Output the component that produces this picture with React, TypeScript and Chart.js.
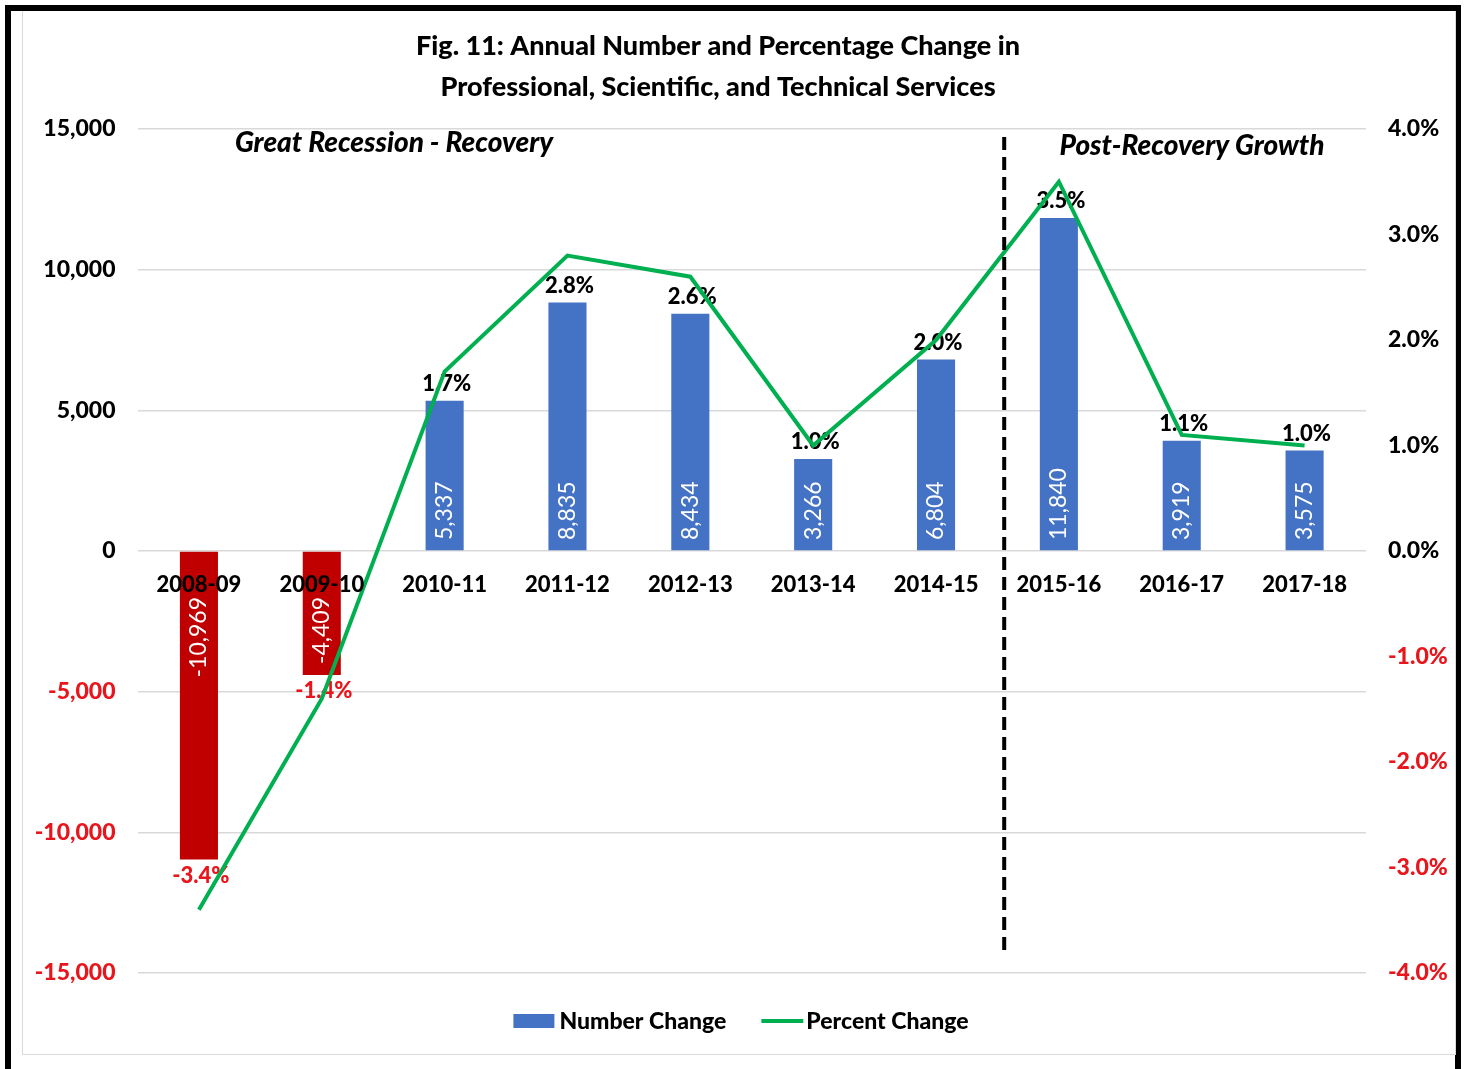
import React, { useEffect, useRef } from "react";
import { Chart, registerables } from "chart.js";

Chart.register(...registerables);

// ---------- data ----------
const categories = ["2008-09", "2009-10", "2010-11", "2011-12", "2012-13", "2013-14", "2014-15", "2015-16", "2016-17", "2017-18"];
const numberChange = [-10969, -4409, 5337, 8835, 8434, 3266, 6804, 11840, 3919, 3575];
const percentChange = [-3.4, -1.4, 1.7, 2.8, 2.6, 1.0, 2.0, 3.5, 1.1, 1.0];
const leftAxisRange = [-15000, 15000, 5000];
const rightAxisRange = [-4, 4, 1];
const titleLines = ["Fig. 11: Annual Number and Percentage Change in", "Professional, Scientific, and Technical Services"];
const periodLabels = ["Great Recession - Recovery", "Post-Recovery Growth"];
const seriesNames = ["Number Change", "Percent Change"];
const dividerAfterIndex = 6; // boundary between 2014-15 and 2015-16

// ---------- style ----------
const FONT = "Lato, 'Open Sans', 'DejaVu Sans', sans-serif";
const BOLD = 900;
const BLUE = "#4472C4";
const DARK_RED = "#C00000";
const NEG_TEXT = "#E8161C";
const GREEN = "#00B050";
const GRID = "#D9D9D9";
const W = 1465;
const H = 1069;

const fmtNum = (v: number) => v.toLocaleString("en-US");
const fmtPct = (v: number) => v.toFixed(1) + "%";

const overlayPlugin = {
  id: "overlay",
  afterDatasetDraw(chart: any, args: any) {
    if (args.index !== 0) return;
    const ctx = chart.ctx;
    const y = chart.scales.y;
    const zero = y.getPixelForValue(0);
    const bars = chart.getDatasetMeta(0).data;
    ctx.save();
    bars.forEach((bar: any, i: number) => {
      const v = numberChange[i];
      // value label inside bar, rotated
      ctx.save();
      ctx.font = `400 23px ${FONT}`;
      ctx.fillStyle = "#FFFFFF";
      ctx.textBaseline = "middle";
      if (v >= 0) {
        ctx.translate(bar.x, zero - 11);
        ctx.rotate(-Math.PI / 2);
        ctx.textAlign = "left";
      } else {
        ctx.translate(bar.x, zero + 46);
        ctx.rotate(-Math.PI / 2);
        ctx.textAlign = "right";
      }
      ctx.fillText(fmtNum(v), 0, 0);
      ctx.restore();

      // percent label at bar end
      const p = percentChange[i];
      ctx.font = `${BOLD} 22px ${FONT}`;
      ctx.textAlign = "center";
      ctx.textBaseline = "middle";
      ctx.fillStyle = p < 0 ? NEG_TEXT : "#000000";
      const end = y.getPixelForValue(v);
      const ly = v >= 0 ? end - 17 : end + 16;
      ctx.fillText(fmtPct(p), bar.x + 2, ly);
    });
    ctx.restore();
  },
  afterDraw(chart: any) {
    const ctx = chart.ctx;
    const x = chart.scales.x;
    const area = chart.chartArea;
    ctx.save();

    // title
    ctx.fillStyle = "#000";
    ctx.font = `${BOLD} 27px ${FONT}`;
    ctx.textAlign = "center";
    ctx.textBaseline = "middle";
    ctx.fillText(titleLines[0], 718, 46);
    ctx.fillText(titleLines[1], 718, 87);

    // period annotations
    ctx.font = `italic ${BOLD} 28px ${FONT}`;
    ctx.fillText(periodLabels[0], 394, 143);
    ctx.fillText(periodLabels[1], 1192, 146);

    // dashed divider
    const a = x.getPixelForValue(dividerAfterIndex);
    const b = x.getPixelForValue(dividerAfterIndex + 1);
    const dx = (a + b) / 2 + (b - a) * 0.055;
    ctx.strokeStyle = "#000";
    ctx.lineWidth = 4;
    ctx.setLineDash([13, 7]);
    ctx.beginPath();
    ctx.moveTo(dx, area.top + 8);
    ctx.lineTo(dx, area.bottom - 20);
    ctx.stroke();
    ctx.setLineDash([]);

    // legend
    ctx.font = `${BOLD} 23px ${FONT}`;
    ctx.textAlign = "left";
    const w1 = ctx.measureText(seriesNames[0]).width;
    const w2 = ctx.measureText(seriesNames[1]).width;
    const total = 41 + 5 + w1 + 35 + 42 + 3 + w2;
    let cx = 741 - total / 2;
    const ly = 1021;
    ctx.fillStyle = BLUE;
    ctx.fillRect(cx, ly - 7, 41, 14);
    cx += 46;
    ctx.fillStyle = "#000";
    ctx.fillText(seriesNames[0], cx, ly + 1);
    cx += w1 + 35;
    ctx.strokeStyle = GREEN;
    ctx.lineWidth = 4;
    ctx.beginPath();
    ctx.moveTo(cx, ly);
    ctx.lineTo(cx + 42, ly);
    ctx.stroke();
    cx += 45;
    ctx.fillStyle = "#000";
    ctx.fillText(seriesNames[1], cx, ly + 1);
    ctx.restore();
  },
};

export default function App() {
  const ref = useRef<HTMLCanvasElement | null>(null);

  useEffect(() => {
    if (!ref.current) return;
    const chart = new Chart(ref.current, {
      type: "bar",
      data: {
        labels: categories,
        datasets: [
          {
            type: "bar",
            label: seriesNames[0],
            data: numberChange,
            backgroundColor: numberChange.map((v) => (v < 0 ? DARK_RED : BLUE)),
            borderWidth: 0,
            categoryPercentage: 1,
            barPercentage: 0.31,
            yAxisID: "y",
            order: 2,
          },
          {
            type: "line",
            label: seriesNames[1],
            data: percentChange,
            borderColor: GREEN,
            backgroundColor: GREEN,
            borderWidth: 4,
            pointRadius: 0,
            tension: 0,
            yAxisID: "y1",
            order: 1,
          },
        ] as any,
      },
      options: {
        animation: false,
        responsive: false,
        maintainAspectRatio: false,
        layout: { padding: { left: 0, right: 0, top: 129, bottom: 96 } },
        plugins: {
          legend: { display: false },
          title: { display: false },
          tooltip: { enabled: false },
        },
        scales: {
          x: {
            type: "category",
            position: { y: 0 } as any,
            grid: { display: false, drawTicks: false },
            border: { display: false },
            ticks: {
              z: 1,
              color: "#000",
              font: { family: FONT, size: 22, weight: BOLD },
              padding: 21,
              maxRotation: 0,
              autoSkip: false,
            },
            afterFit: (s: any) => {
              s.height = 0;
            },
          },
          y: {
            type: "linear",
            position: "left",
            min: leftAxisRange[0],
            max: leftAxisRange[1],
            grid: { color: GRID, lineWidth: 1.5, drawTicks: false },
            border: { display: false },
            ticks: {
              stepSize: leftAxisRange[2],
              padding: 22,
              font: { family: FONT, size: 23, weight: BOLD },
              color: (c: any) => (c.tick && c.tick.value < 0 ? NEG_TEXT : "#000"),
              callback: (v: any) => fmtNum(Number(v)),
            },
            afterFit: (s: any) => {
              s.width = 137.5;
            },
          },
          y1: {
            type: "linear",
            position: "right",
            min: rightAxisRange[0],
            max: rightAxisRange[1],
            grid: { drawOnChartArea: false, drawTicks: false },
            border: { display: false },
            ticks: {
              stepSize: rightAxisRange[2],
              padding: 22,
              font: { family: FONT, size: 23, weight: BOLD },
              color: (c: any) => (c.tick && c.tick.value < 0 ? NEG_TEXT : "#000"),
              callback: (v: any) => fmtPct(Number(v)),
            },
            afterFit: (s: any) => {
              s.width = 99;
            },
          },
        },
      } as any,
      plugins: [overlayPlugin],
    });
    return () => chart.destroy();
  }, []);

  return (
    <div style={{ position: "absolute", left: 0, top: 0, width: W, height: H, overflow: "hidden", background: "#fff" }}>
      <div
        style={{
          position: "absolute",
          left: 5,
          top: 5,
          width: 1444,
          height: 1100,
          borderTop: "6px solid #000",
          borderLeft: "6px solid #000",
          borderRight: "6px solid #000",
        }}
      />
      <div
        style={{
          position: "absolute",
          left: 22,
          top: 11,
          width: 1432,
          height: 1043,
          border: "1.5px solid #D9D9D9",
          borderTop: "none",
        }}
      />
      <canvas ref={ref} width={W} height={H} style={{ position: "absolute", left: 0, top: 0, width: W, height: H }} />
    </div>
  );
}
